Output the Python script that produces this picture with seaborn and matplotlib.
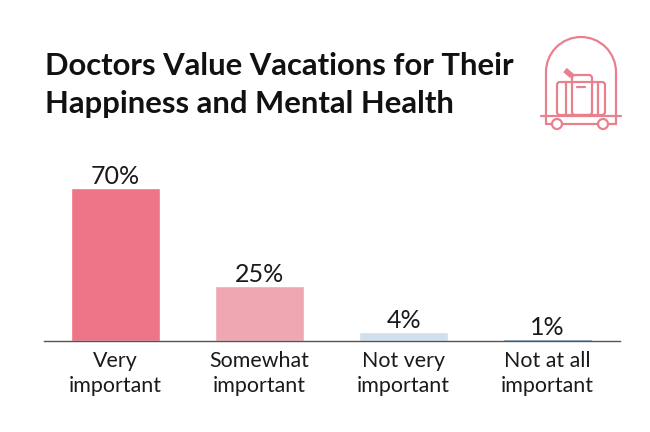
# -*- coding: utf-8 -*-
import matplotlib
matplotlib.use("Agg")
import matplotlib.pyplot as plt
import pandas as pd
import seaborn as sns
from matplotlib.patches import Arc, Circle, FancyBboxPatch

sns.set_theme(style="white")
plt.rcParams["font.family"] = ["Lato", "DejaVu Sans"]

CATEGORIAS = ["Very\nimportant", "Somewhat\nimportant", "Not very\nimportant", "Not at all\nimportant"]
VALORES = [70, 25, 4, 1]
COLORES = ["#ee7488", "#efa7b2", "#cfe0ee", "#5f86b5"]
TITULO = ["Doctors Value Vacations for Their", "Happiness and Mental Health"]
ICONO = "#e9808e"

W, H = 650, 432
fig = plt.figure(figsize=(W / 100, H / 100), dpi=100)
ax = fig.add_axes([44 / W, (H - 341) / H, 576 / W, 153 / H])

df = pd.DataFrame({"cat": CATEGORIAS, "val": VALORES})
sns.barplot(data=df, x="cat", y="val", hue="cat", palette=COLORES, legend=False,
            width=0.618, saturation=1, ax=ax)
for cont in ax.containers:
    ax.bar_label(cont, fmt="%g%%", fontsize=18, color="#1a1a1a", padding=0)

ax.set_xlim(-0.497, 3.503)
ax.set_ylim(0, 70)
ax.set_xlabel("")
ax.set_ylabel("")
ax.set_yticks([])
ax.tick_params(axis="x", length=0, pad=7, labelsize=15.4, labelcolor="#1a1a1a")
for lab in ax.get_xticklabels():
    lab.set_linespacing(1.3)
for lado in ["top", "left", "right"]:
    ax.spines[lado].set_visible(False)
ax.spines["bottom"].set_color("#555555")
ax.spines["bottom"].set_linewidth(1)
ax.patch.set_alpha(0)

for linea, y in zip(TITULO, [66, 104]):
    fig.text(45 / W, 1 - y / H, linea, fontsize=22.3, fontweight="bold",
             color="#111111", ha="left", va="center")

# icono del carrito, en pixeles de la imagen
ic = fig.add_axes([0, 0, 1, 1], facecolor="none")
ic.set_xlim(0, W)
ic.set_ylim(H, 0)
ic.axis("off")
kw = dict(color=ICONO, lw=1.6, solid_capstyle="round")
ic.add_patch(Arc((581, 72), 70, 70, theta1=180, theta2=360, color=ICONO, lw=1.6))
ic.plot([546, 546], [72, 124], **kw)
ic.plot([616, 616], [72, 124], **kw)
ic.plot([541, 621], [115.5, 115.5], **kw)
ic.plot([546, 552], [124, 124], **kw)
ic.plot([562, 598], [124, 124], **kw)
ic.plot([608, 616], [124, 124], **kw)
for cx in (557, 603):
    ic.add_patch(Circle((cx, 124), 5, fill=True, fc="white", ec=ICONO, lw=1.6))
ic.add_patch(FancyBboxPatch((557, 82), 48, 33, boxstyle="round,pad=0,rounding_size=3",
                            fill=False, ec=ICONO, lw=1.6))
ic.add_patch(FancyBboxPatch((572, 75), 20, 40, boxstyle="round,pad=0,rounding_size=3",
                            fill=False, ec=ICONO, lw=1.6))
ic.plot([566, 566], [82, 115], **kw)
ic.plot([598, 598], [82, 115], **kw)
ic.plot([577, 585], [87, 87], **kw)
ic.plot([565, 572], [70, 76], color=ICONO, lw=4, solid_capstyle="butt")

fig.savefig("out.png", dpi=100, facecolor="white")
